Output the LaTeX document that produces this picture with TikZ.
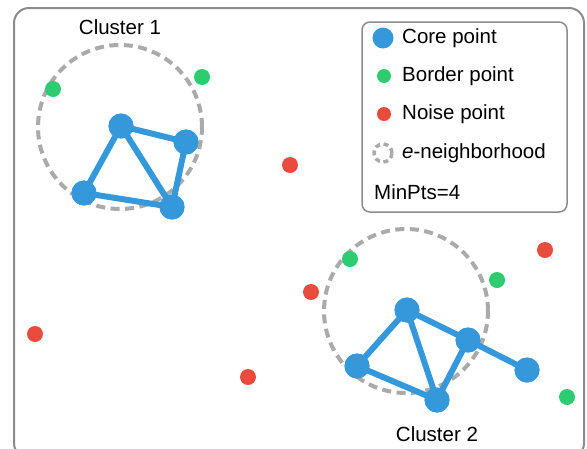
\documentclass[tikz,border=0pt]{standalone}
\usepackage{fontspec}
\setmainfont{Liberation Sans}
\definecolor{coreblue}{HTML}{3498DB}
\definecolor{bordergreen}{HTML}{2ECC71}
\definecolor{noisered}{HTML}{E74C3C}
\definecolor{framegray}{HTML}{8C8C8C}
\definecolor{dashgray}{HTML}{AAAAAA}
\tikzset{
  core/.style={circle,fill=coreblue,inner sep=0pt,minimum size=25pt},
  border/.style={circle,fill=bordergreen,inner sep=0pt,minimum size=16pt},
  noise/.style={circle,fill=noisered,inner sep=0pt,minimum size=16pt},
  link/.style={draw=coreblue,line width=6pt},
  eps/.style={draw=dashgray,line width=4pt,dash pattern=on 9pt off 5.5pt},
  lbl/.style={font=\fontsize{20.5}{24}\selectfont,inner sep=0pt},
}
\begin{document}
\begin{tikzpicture}[x=1pt,y=-1pt]
\useasboundingbox (0,0) rectangle (587,448);
\clip (0,0) rectangle (587,448);
\fill[white] (0,0) rectangle (587,448);
\draw[framegray,line width=2pt,rounded corners=15pt] (14,8) rectangle (584,458);
% neighborhoods
\node[eps,circle,minimum size=164pt,inner sep=0pt] (n1) at (120,127) {};
\node[eps,circle,minimum size=164pt,inner sep=0pt] (n2) at (406,311) {};
% cluster 1
\node[core] (a1) at (121,126) {};
\node[core] (b1) at (186,142) {};
\node[core] (c1) at (84,193) {};
\node[core] (d1) at (172,207) {};
\draw[link] (a1.center) -- (b1.center) (a1.center) -- (c1.center) (a1.center) -- (d1.center)
  (c1.center) -- (d1.center) (b1.center) -- (d1.center);
\node[core] at (a1) {};
\node[core] at (b1) {};
\node[core] at (c1) {};
\node[core] at (d1) {};
% cluster 2
\node[core] (a2) at (407,310) {};
\node[core] (b2) at (468,340) {};
\node[core] (c2) at (357,366) {};
\node[core] (d2) at (437,400) {};
\node[core] (e2) at (527,370) {};
\draw[link] (a2.center) -- (b2.center) (a2.center) -- (c2.center) (a2.center) -- (d2.center)
  (c2.center) -- (d2.center) (b2.center) -- (d2.center) (b2.center) -- (e2.center);
\node[core] at (a2) {};
\node[core] at (b2) {};
\node[core] at (c2) {};
\node[core] at (d2) {};
\node[core] at (e2) {};
% border points
\node[border] (g1) at (53,89) {};
\node[border] (g2) at (202,77) {};
\node[border] (g3) at (350,259) {};
\node[border] (g4) at (497,280) {};
\node[border] (g5) at (567,397) {};
% noise points
\node[noise] (r1) at (290,165) {};
\node[noise] (r2) at (311,292) {};
\node[noise] (r3) at (545,250) {};
\node[noise] (r4) at (35,334) {};
\node[noise] (r5) at (248,377) {};
% cluster labels
\node[lbl] (t1) at (120,27) {Cluster 1};
\node[lbl] (t2) at (437,434) {Cluster 2};
% legend
\draw[framegray,line width=1.5pt,rounded corners=8pt] (362,22) rectangle (567,212);
\node[core,minimum size=21pt] (lc) at (383,38) {};
\node[border,minimum size=14pt] (lb) at (384,76) {};
\node[noise,minimum size=14pt] (ln) at (384,114) {};
\node[circle,draw=dashgray,line width=3.5pt,dash pattern=on 5pt off 3.5pt,minimum size=18pt,inner sep=0pt] (le) at (383,153) {};
\node[lbl,anchor=west] at (402,38) {Core point};
\node[lbl,anchor=west] at (402,76) {Border point};
\node[lbl,anchor=west] at (402,114) {Noise point};
\node[lbl,anchor=west] at (402,153) {\textit{e}-neighborhood};
\node[lbl,anchor=west] at (374,192) {MinPts=4};
\end{tikzpicture}
\end{document}
